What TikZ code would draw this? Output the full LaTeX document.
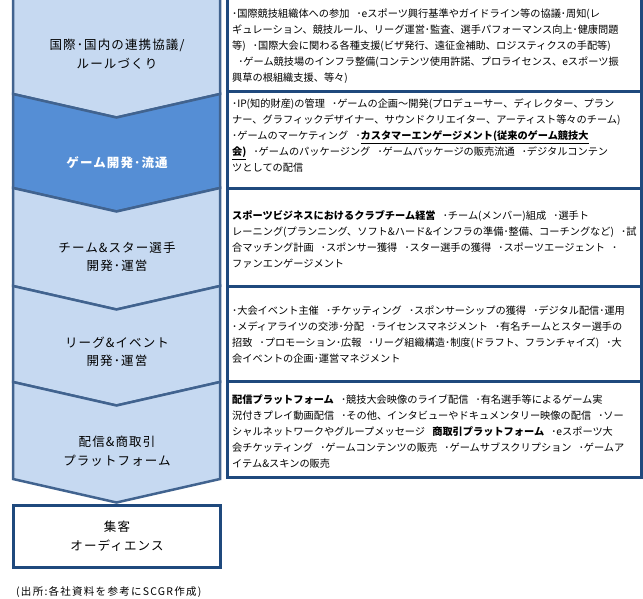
\documentclass[tikz,border=0pt]{standalone}
\usepackage{fontspec}
\setmainfont{Noto Sans CJK JP}
\definecolor{chevlight}{HTML}{C6D9F1}
\definecolor{chevdark}{HTML}{558ED5}
\definecolor{chevline}{HTML}{41638F}
\definecolor{boxline}{HTML}{1F497D}
\newcommand\gp{\hspace{0.7em}}
\begin{document}
\begin{tikzpicture}[x=1pt,y=-1pt]
\tikzset{
  chev/.style={draw=chevline, line width=2.5pt, fill=chevlight, line join=miter},
  chevd/.style={chev, fill=chevdark},
  rbox/.style={draw=boxline, line width=3pt, fill=white},
  rtext/.style={anchor=west, align=left, inner sep=0pt, font=\fontsize{10.2}{16}\selectfont, text=black},
  ltext/.style={anchor=center, align=center, inner sep=0pt, font=\fontsize{12.5}{18.5}\selectfont\addfontfeatures{LetterSpace=9}, text=black},
  note/.style={anchor=west, inner sep=0pt, font=\fontsize{10.5}{12}\selectfont\addfontfeatures{LetterSpace=12}, text=black}
}
\useasboundingbox (0,0) rectangle (643,599);
\clip (0,0) rectangle (643,599);
% chevrons
\draw[chev]  (13,-8) -- (220,-8) -- (220,94) -- (116.5,117.5) -- (13,94) -- cycle;
\draw[chevd] (13,94) -- (116.5,117.5) -- (220,94) -- (220,188) -- (116.5,211.5) -- (13,188) -- cycle;
\draw[chev]  (13,188) -- (116.5,211.5) -- (220,188) -- (220,286) -- (116.5,309.5) -- (13,286) -- cycle;
\draw[chev]  (13,286) -- (116.5,309.5) -- (220,286) -- (220,382) -- (116.5,405.5) -- (13,382) -- cycle;
\draw[chev]  (13,382) -- (116.5,405.5) -- (220,382) -- (220,479) -- (116.5,502.5) -- (13,479) -- cycle;
\draw[rbox] (13,505) rectangle (220,567);
% right boxes
\draw[rbox] (227,-8) rectangle (641,92);
\draw[rbox] (227,92) rectangle (641,189);
\draw[rbox] (227,189) rectangle (641,286);
\draw[rbox] (227,286) rectangle (641,381);
\draw[rbox] (227,381) rectangle (641,477);
% left labels
\node[ltext] (l1) at (117,54) {国際･国内の連携協議/\\ルールづくり};
\node[ltext, text=white, font=\fontsize{12.5}{18.5}\selectfont\bfseries\addfontfeatures{LetterSpace=9}] (l2) at (117,163) {ゲーム開発･流通};
\node[ltext] (l3) at (117,257) {チーム\&スター選手\\開発･運営};
\node[ltext] (l4) at (117,352) {リーグ\&イベント\\開発･運営};
\node[ltext] (l5) at (117,451) {配信\&商取引\\プラットフォーム};
\node[ltext] (l6) at (117,536) {集客\\オーディエンス};
% right texts
\node[rtext] (r1) at (232,46) {･国際競技組織体への参加\gp･eスポーツ興行基準やガイドライン等の協議･周知(レ\\
ギュレーション、競技ルール、リーグ運営･監査、選手パフォーマンス向上･健康問題\\
等)\gp･国際大会に関わる各種支援(ビザ発行、遠征金補助、ロジスティクスの手配等)\\
\hspace*{0.6em}･ゲーム競技場のインフラ整備(コンテンツ使用許諾、プロライセンス、eスポーツ振\\
興草の根組織支援、等々)};
\node[rtext] (r2) at (232,136) {･IP(知的財産)の管理\gp･ゲームの企画～開発(プロデューサー、ディレクター、プラン\\
ナー、グラフィックデザイナー、サウンドクリエイター、アーティスト等々のチーム)\\
･ゲームのマーケティング\gp･\textbf{\underline{カスタマーエンゲージメント(従来のゲーム競技大}}\\
\textbf{\underline{会)}}\gp･ゲームのパッケージング\gp･ゲームパッケージの販売流通\gp･デジタルコンテン\\
ツとしての配信};
\node[rtext] (r3) at (232,239) {\textbf{スポーツビジネスにおけるクラブチーム経営}\gp･チーム(メンバー)組成\gp･選手ト\\
レーニング(プランニング、ソフト\&ハード\&インフラの準備･整備、コーチングなど)\gp･試\\
合マッチング計画\gp･スポンサー獲得\gp･スター選手の獲得\gp･スポーツエージェント\gp･\\
ファンエンゲージメント};
\node[rtext] (r4) at (232,335) {･大会イベント主催\gp･チケッティング\gp･スポンサーシップの獲得\gp･デジタル配信･運用\\
･メディアライツの交渉･分配\gp･ライセンスマネジメント\gp･有名チームとスター選手の\\
招致\gp･プロモーション･広報\gp･リーグ組織構造･制度(ドラフト、フランチャイズ)\gp･大\\
会イベントの企画･運営マネジメント};
\node[rtext] (r5) at (232,432) {\textbf{配信プラットフォーム}\gp･競技大会映像のライブ配信\gp･有名選手等によるゲーム実\\
況付きプレイ動画配信\gp･その他、インタビューやドキュメンタリー映像の配信\gp･ソー\\
シャルネットワークやグループメッセージ\gp\textbf{商取引プラットフォーム}\gp･eスポーツ大\\
会チケッティング\gp･ゲームコンテンツの販売\gp･ゲームサブスクリプション\gp･ゲームア\\
イテム\&スキンの販売};
% note
\node[note] (src) at (16,592) {(出所:各社資料を参考にSCGR作成)};
\end{tikzpicture}
\end{document}
